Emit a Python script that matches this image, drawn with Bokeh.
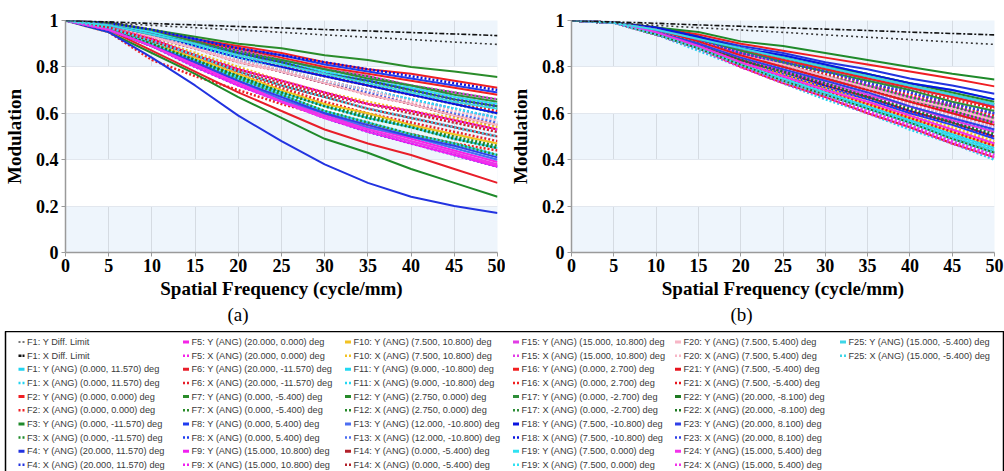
from bokeh.plotting import figure
from bokeh.models import Range1d, FixedTicker, Title, ColumnDataSource
from bokeh.layouts import column, row
from bokeh.embed import file_html
from bokeh.resources import INLINE
from bokeh.core.properties import value

# ---------------- data ----------------
freq = [0, 5, 10, 15, 20, 25, 30, 35, 40, 45, 50]
x_ticks = [0, 5, 10, 15, 20, 25, 30, 35, 40, 45, 50]
y_ticks = [0, 0.2, 0.4, 0.6, 0.8, 1]
y_tick_labels = ["0", "0.2", "0.4", "0.6", "0.8", "1"]

field_names = ["F1", "F2", "F3", "F4", "F5", "F6", "F7", "F8", "F9", "F10", "F11", "F12", "F13",
               "F14", "F15", "F16", "F17", "F18", "F19", "F20", "F21", "F22", "F23", "F24", "F25"]
field_angles = ["(0.000, 11.570)", "(0.000, 0.000)", "(0.000, -11.570)", "(20.000, 11.570)",
                "(20.000, 0.000)", "(20.000, -11.570)", "(0.000, -5.400)", "(0.000, 5.400)",
                "(15.000, 10.800)", "(7.500, 10.800)", "(9.000, -10.800)", "(2.750, 0.000)",
                "(12.000, -10.800)", "(0.000, -5.400)", "(15.000, 10.800)", "(0.000, 2.700)",
                "(0.000, -2.700)", "(7.500, -10.800)", "(7.500, 0.000)", "(7.500, 5.400)",
                "(7.500, -5.400)", "(20.000, -8.100)", "(20.000, 8.100)", "(15.000, 5.400)",
                "(15.000, -5.400)"]
field_colors = ["#22D3F0", "#F01E23", "#1F8A2A", "#2233E0", "#F524E8", "#E81E2A", "#2A8C2A",
                "#1F3CF0", "#F020F0", "#F2C222", "#22D8F2", "#268A2A", "#4C6EF2", "#B2202A",
                "#E23CE6", "#F22020", "#2E8E38", "#0A14E0", "#30E2F2", "#F7B6C6", "#E8141E",
                "#1E7A22", "#3040E8", "#F232EA", "#3ED6E8"]

# panel (a) diffraction limits
a_diff_Y = [1.0, 0.990, 0.979, 0.969, 0.959, 0.949, 0.938, 0.928, 0.918, 0.907, 0.897]
a_diff_X = [1.0, 0.994, 0.987, 0.981, 0.974, 0.968, 0.961, 0.955, 0.948, 0.942, 0.935]
# panel (a) fields
a_F1_Y = [1.00, 0.97, 0.90, 0.83, 0.76, 0.69, 0.63, 0.58, 0.54, 0.49, 0.45]
a_F1_X = [1.00, 0.96, 0.89, 0.81, 0.74, 0.66, 0.60, 0.54, 0.50, 0.45, 0.40]
a_F2_Y = [1.00, 0.99, 0.96, 0.92, 0.89, 0.86, 0.82, 0.79, 0.77, 0.74, 0.71]
a_F2_X = [1.00, 0.95, 0.83, 0.76, 0.70, 0.64, 0.59, 0.55, 0.51, 0.47, 0.44]
a_F3_Y = [1.00, 0.95, 0.86, 0.77, 0.67, 0.58, 0.49, 0.43, 0.36, 0.30, 0.24]
a_F3_X = [1.00, 0.97, 0.90, 0.83, 0.76, 0.70, 0.64, 0.59, 0.55, 0.50, 0.46]
a_F4_Y = [1.00, 0.95, 0.84, 0.72, 0.59, 0.48, 0.38, 0.30, 0.24, 0.20, 0.17]
a_F4_X = [1.00, 0.96, 0.89, 0.80, 0.72, 0.65, 0.58, 0.52, 0.47, 0.42, 0.37]
a_F5_Y = [1.00, 0.96, 0.89, 0.81, 0.73, 0.66, 0.59, 0.54, 0.49, 0.44, 0.39]
a_F5_X = [1.00, 0.97, 0.91, 0.85, 0.78, 0.72, 0.67, 0.62, 0.58, 0.54, 0.50]
a_F6_Y = [1.00, 0.96, 0.87, 0.78, 0.69, 0.61, 0.53, 0.47, 0.42, 0.36, 0.30]
a_F6_X = [1.00, 0.97, 0.91, 0.84, 0.77, 0.71, 0.65, 0.60, 0.56, 0.52, 0.48]
a_F7_Y = [1.00, 0.99, 0.96, 0.93, 0.90, 0.88, 0.85, 0.83, 0.80, 0.78, 0.756]
a_F7_X = [1.00, 0.98, 0.94, 0.90, 0.85, 0.81, 0.77, 0.73, 0.69, 0.65, 0.62]
a_F8_Y = [1.00, 0.98, 0.95, 0.92, 0.88, 0.85, 0.81, 0.78, 0.75, 0.72, 0.69]
a_F8_X = [1.00, 0.98, 0.94, 0.89, 0.84, 0.79, 0.74, 0.70, 0.66, 0.62, 0.58]
a_F9_Y = [1.00, 0.96, 0.89, 0.80, 0.72, 0.65, 0.58, 0.52, 0.47, 0.42, 0.37]
a_F9_X = [1.00, 0.98, 0.95, 0.90, 0.86, 0.82, 0.78, 0.74, 0.71, 0.67, 0.64]
a_F10_Y = [1.00, 0.97, 0.90, 0.84, 0.77, 0.70, 0.64, 0.60, 0.55, 0.51, 0.47]
a_F10_X = [1.00, 0.97, 0.92, 0.86, 0.80, 0.74, 0.69, 0.65, 0.61, 0.58, 0.54]
a_F11_Y = [1.00, 0.97, 0.90, 0.82, 0.75, 0.68, 0.61, 0.56, 0.51, 0.47, 0.42]
a_F11_X = [1.00, 0.97, 0.91, 0.85, 0.79, 0.73, 0.68, 0.64, 0.60, 0.56, 0.52]
a_F12_Y = [1.00, 0.98, 0.95, 0.91, 0.87, 0.83, 0.79, 0.76, 0.72, 0.69, 0.66]
a_F12_X = [1.00, 0.98, 0.94, 0.89, 0.84, 0.80, 0.76, 0.72, 0.68, 0.64, 0.60]
a_F13_Y = [1.00, 0.96, 0.89, 0.81, 0.74, 0.66, 0.60, 0.54, 0.50, 0.45, 0.40]
a_F13_X = [1.00, 0.98, 0.93, 0.88, 0.83, 0.78, 0.73, 0.69, 0.64, 0.60, 0.56]
a_F14_Y = [1.00, 0.97, 0.91, 0.85, 0.78, 0.72, 0.67, 0.62, 0.58, 0.54, 0.50]
a_F14_X = [1.00, 0.98, 0.93, 0.88, 0.82, 0.78, 0.73, 0.68, 0.64, 0.59, 0.55]
a_F15_Y = [1.00, 0.96, 0.89, 0.81, 0.73, 0.65, 0.59, 0.53, 0.48, 0.43, 0.38]
a_F15_X = [1.00, 0.98, 0.95, 0.91, 0.87, 0.83, 0.79, 0.76, 0.72, 0.69, 0.66]
a_F16_Y = [1.00, 0.98, 0.95, 0.91, 0.88, 0.84, 0.80, 0.77, 0.74, 0.71, 0.68]
a_F16_X = [1.00, 0.98, 0.94, 0.89, 0.85, 0.81, 0.76, 0.72, 0.68, 0.65, 0.61]
a_F17_Y = [1.00, 0.98, 0.95, 0.91, 0.86, 0.83, 0.79, 0.75, 0.72, 0.68, 0.65]
a_F17_X = [1.00, 0.97, 0.90, 0.82, 0.75, 0.68, 0.61, 0.56, 0.51, 0.47, 0.42]
a_F18_Y = [1.00, 0.98, 0.94, 0.89, 0.84, 0.80, 0.76, 0.72, 0.68, 0.64, 0.60]
a_F18_X = [1.00, 0.99, 0.96, 0.92, 0.88, 0.85, 0.82, 0.79, 0.76, 0.73, 0.70]
a_F19_Y = [1.00, 0.98, 0.95, 0.90, 0.86, 0.82, 0.78, 0.74, 0.71, 0.67, 0.64]
a_F19_X = [1.00, 0.98, 0.94, 0.89, 0.84, 0.79, 0.74, 0.70, 0.66, 0.62, 0.58]
a_F20_Y = [1.00, 0.98, 0.93, 0.88, 0.82, 0.78, 0.73, 0.68, 0.64, 0.59, 0.55]
a_F20_X = [1.00, 0.98, 0.94, 0.88, 0.83, 0.79, 0.74, 0.70, 0.65, 0.61, 0.57]
a_F21_Y = [1.00, 0.97, 0.92, 0.85, 0.79, 0.74, 0.69, 0.64, 0.61, 0.57, 0.53]
a_F21_X = [1.00, 0.97, 0.91, 0.85, 0.79, 0.73, 0.68, 0.64, 0.60, 0.56, 0.52]
a_F22_Y = [1.00, 0.98, 0.94, 0.90, 0.86, 0.82, 0.77, 0.74, 0.70, 0.66, 0.63]
a_F22_X = [1.00, 0.97, 0.90, 0.83, 0.76, 0.69, 0.63, 0.58, 0.54, 0.49, 0.45]
a_F23_Y = [1.00, 0.96, 0.89, 0.82, 0.74, 0.67, 0.60, 0.55, 0.50, 0.46, 0.41]
a_F23_X = [1.00, 0.98, 0.94, 0.90, 0.86, 0.82, 0.77, 0.74, 0.70, 0.66, 0.63]
a_F24_Y = [1.00, 0.96, 0.89, 0.81, 0.73, 0.65, 0.58, 0.53, 0.48, 0.43, 0.375]
a_F24_X = [1.00, 0.97, 0.92, 0.85, 0.79, 0.74, 0.69, 0.64, 0.61, 0.57, 0.53]
a_F25_Y = [1.00, 0.98, 0.94, 0.90, 0.85, 0.81, 0.77, 0.73, 0.69, 0.65, 0.62]
a_F25_X = [1.00, 0.97, 0.91, 0.85, 0.78, 0.72, 0.67, 0.62, 0.58, 0.54, 0.50]

# panel (b) diffraction limits
b_diff_Y = [1.0, 0.990, 0.979, 0.969, 0.959, 0.949, 0.938, 0.928, 0.918, 0.907, 0.897]
b_diff_X = [1.0, 0.994, 0.988, 0.981, 0.975, 0.969, 0.963, 0.957, 0.950, 0.944, 0.938]
# panel (b) fields
b_F1_Y = [1.00, 0.99, 0.97, 0.93, 0.88, 0.85, 0.81, 0.77, 0.73, 0.70, 0.66]
b_F1_X = [1.00, 0.99, 0.94, 0.87, 0.80, 0.73, 0.66, 0.60, 0.53, 0.47, 0.40]
b_F2_Y = [1.00, 0.99, 0.97, 0.94, 0.90, 0.87, 0.84, 0.81, 0.78, 0.75, 0.716]
b_F2_X = [1.00, 0.99, 0.96, 0.92, 0.87, 0.83, 0.79, 0.75, 0.70, 0.66, 0.62]
b_F3_Y = [1.00, 0.99, 0.97, 0.95, 0.91, 0.89, 0.86, 0.83, 0.80, 0.77, 0.746]
b_F3_X = [1.00, 0.99, 0.96, 0.91, 0.85, 0.80, 0.75, 0.70, 0.65, 0.60, 0.55]
b_F4_Y = [1.00, 0.99, 0.97, 0.93, 0.89, 0.86, 0.82, 0.79, 0.75, 0.72, 0.684]
b_F4_X = [1.00, 0.99, 0.96, 0.92, 0.86, 0.82, 0.78, 0.73, 0.69, 0.64, 0.60]
b_F5_Y = [1.00, 0.99, 0.96, 0.91, 0.86, 0.81, 0.76, 0.72, 0.67, 0.63, 0.58]
b_F5_X = [1.00, 0.99, 0.94, 0.88, 0.80, 0.74, 0.68, 0.61, 0.55, 0.48, 0.42]
b_F6_Y = [1.00, 0.99, 0.94, 0.88, 0.80, 0.73, 0.67, 0.60, 0.54, 0.47, 0.41]
b_F6_X = [1.00, 0.99, 0.95, 0.89, 0.82, 0.76, 0.70, 0.65, 0.59, 0.53, 0.47]
b_F7_Y = [1.00, 0.99, 0.96, 0.92, 0.88, 0.84, 0.80, 0.76, 0.72, 0.68, 0.64]
b_F7_X = [1.00, 0.99, 0.96, 0.91, 0.85, 0.81, 0.76, 0.71, 0.66, 0.62, 0.57]
b_F8_Y = [1.00, 0.99, 0.95, 0.89, 0.83, 0.77, 0.71, 0.66, 0.60, 0.55, 0.49]
b_F8_X = [1.00, 0.99, 0.95, 0.90, 0.84, 0.78, 0.73, 0.68, 0.63, 0.57, 0.52]
b_F9_Y = [1.00, 0.99, 0.96, 0.91, 0.85, 0.80, 0.75, 0.71, 0.66, 0.61, 0.56]
b_F9_X = [1.00, 0.99, 0.94, 0.88, 0.81, 0.74, 0.68, 0.62, 0.56, 0.49, 0.43]
b_F10_Y = [1.00, 0.99, 0.95, 0.89, 0.82, 0.76, 0.70, 0.64, 0.58, 0.52, 0.46]
b_F10_X = [1.00, 0.99, 0.95, 0.89, 0.82, 0.77, 0.71, 0.65, 0.59, 0.54, 0.48]
b_F11_Y = [1.00, 0.99, 0.95, 0.88, 0.81, 0.75, 0.69, 0.63, 0.57, 0.51, 0.45]
b_F11_X = [1.00, 0.99, 0.95, 0.90, 0.84, 0.79, 0.74, 0.69, 0.63, 0.58, 0.53]
b_F12_Y = [1.00, 0.99, 0.97, 0.93, 0.88, 0.84, 0.80, 0.77, 0.73, 0.69, 0.65]
b_F12_X = [1.00, 0.99, 0.96, 0.91, 0.85, 0.80, 0.75, 0.71, 0.66, 0.61, 0.56]
b_F13_Y = [1.00, 0.99, 0.96, 0.92, 0.87, 0.83, 0.79, 0.75, 0.71, 0.67, 0.63]
b_F13_X = [1.00, 0.99, 0.95, 0.90, 0.84, 0.79, 0.74, 0.69, 0.64, 0.59, 0.54]
b_F14_Y = [1.00, 0.99, 0.95, 0.90, 0.83, 0.78, 0.72, 0.67, 0.61, 0.56, 0.50]
b_F14_X = [1.00, 0.99, 0.94, 0.88, 0.81, 0.75, 0.69, 0.62, 0.56, 0.50, 0.44]
b_F15_Y = [1.00, 0.99, 0.95, 0.90, 0.84, 0.78, 0.73, 0.68, 0.63, 0.57, 0.52]
b_F15_X = [1.00, 0.99, 0.94, 0.88, 0.80, 0.73, 0.67, 0.60, 0.54, 0.47, 0.41]
b_F16_Y = [1.00, 0.99, 0.96, 0.92, 0.87, 0.83, 0.79, 0.75, 0.71, 0.67, 0.626]
b_F16_X = [1.00, 0.99, 0.96, 0.91, 0.86, 0.82, 0.77, 0.73, 0.68, 0.64, 0.59]
b_F17_Y = [1.00, 0.99, 0.96, 0.92, 0.87, 0.82, 0.78, 0.74, 0.70, 0.65, 0.61]
b_F17_X = [1.00, 0.99, 0.96, 0.91, 0.86, 0.81, 0.76, 0.72, 0.67, 0.63, 0.58]
b_F18_Y = [1.00, 0.99, 0.97, 0.93, 0.88, 0.85, 0.81, 0.77, 0.73, 0.70, 0.66]
b_F18_X = [1.00, 0.99, 0.95, 0.90, 0.83, 0.78, 0.72, 0.67, 0.61, 0.56, 0.50]
b_F19_Y = [1.00, 0.99, 0.94, 0.88, 0.81, 0.75, 0.69, 0.62, 0.56, 0.50, 0.44]
b_F19_X = [1.00, 0.99, 0.95, 0.88, 0.81, 0.75, 0.69, 0.63, 0.57, 0.51, 0.45]
b_F20_Y = [1.00, 0.99, 0.96, 0.91, 0.85, 0.81, 0.76, 0.71, 0.66, 0.62, 0.57]
b_F20_X = [1.00, 0.99, 0.95, 0.90, 0.84, 0.79, 0.74, 0.69, 0.64, 0.59, 0.54]
b_F21_Y = [1.00, 0.99, 0.96, 0.91, 0.85, 0.80, 0.75, 0.70, 0.65, 0.60, 0.55]
b_F21_X = [1.00, 0.99, 0.95, 0.89, 0.82, 0.76, 0.70, 0.64, 0.58, 0.52, 0.46]
b_F22_Y = [1.00, 0.99, 0.94, 0.88, 0.81, 0.74, 0.68, 0.62, 0.56, 0.49, 0.43]
b_F22_X = [1.00, 0.99, 0.95, 0.90, 0.83, 0.78, 0.73, 0.67, 0.62, 0.56, 0.51]
b_F23_Y = [1.00, 0.99, 0.95, 0.90, 0.84, 0.79, 0.74, 0.69, 0.63, 0.58, 0.53]
b_F23_X = [1.00, 0.99, 0.96, 0.92, 0.86, 0.82, 0.78, 0.73, 0.69, 0.64, 0.60]
b_F24_Y = [1.00, 0.99, 0.95, 0.89, 0.82, 0.76, 0.70, 0.65, 0.59, 0.53, 0.47]
b_F24_X = [1.00, 0.99, 0.94, 0.88, 0.80, 0.74, 0.68, 0.61, 0.55, 0.48, 0.42]
b_F25_Y = [1.00, 0.99, 0.96, 0.92, 0.88, 0.84, 0.80, 0.76, 0.72, 0.68, 0.64]
b_F25_X = [1.00, 0.99, 0.94, 0.88, 0.81, 0.74, 0.68, 0.62, 0.56, 0.49, 0.43]

a_Y = [a_F1_Y, a_F2_Y, a_F3_Y, a_F4_Y, a_F5_Y, a_F6_Y, a_F7_Y, a_F8_Y, a_F9_Y, a_F10_Y, a_F11_Y,
       a_F12_Y, a_F13_Y, a_F14_Y, a_F15_Y, a_F16_Y, a_F17_Y, a_F18_Y, a_F19_Y, a_F20_Y, a_F21_Y,
       a_F22_Y, a_F23_Y, a_F24_Y, a_F25_Y]
a_X = [a_F1_X, a_F2_X, a_F3_X, a_F4_X, a_F5_X, a_F6_X, a_F7_X, a_F8_X, a_F9_X, a_F10_X, a_F11_X,
       a_F12_X, a_F13_X, a_F14_X, a_F15_X, a_F16_X, a_F17_X, a_F18_X, a_F19_X, a_F20_X, a_F21_X,
       a_F22_X, a_F23_X, a_F24_X, a_F25_X]
b_Y = [b_F1_Y, b_F2_Y, b_F3_Y, b_F4_Y, b_F5_Y, b_F6_Y, b_F7_Y, b_F8_Y, b_F9_Y, b_F10_Y, b_F11_Y,
       b_F12_Y, b_F13_Y, b_F14_Y, b_F15_Y, b_F16_Y, b_F17_Y, b_F18_Y, b_F19_Y, b_F20_Y, b_F21_Y,
       b_F22_Y, b_F23_Y, b_F24_Y, b_F25_Y]
b_X = [b_F1_X, b_F2_X, b_F3_X, b_F4_X, b_F5_X, b_F6_X, b_F7_X, b_F8_X, b_F9_X, b_F10_X, b_F11_X,
       b_F12_X, b_F13_X, b_F14_X, b_F15_X, b_F16_X, b_F17_X, b_F18_X, b_F19_X, b_F20_X, b_F21_X,
       b_F22_X, b_F23_X, b_F24_X, b_F25_X]

SERIF = "Liberation Serif"
SANS = "Liberation Sans"
BAND = "#eef5fc"


def make_panel(ys, xs, diff_y, diff_x, tag, width, left, right, tag_offset):
    p = figure(width=width, height=331, x_range=Range1d(0, 50), y_range=Range1d(0, 1),
               output_backend="svg", toolbar_location=None,
               min_border_left=left, min_border_right=right, min_border_top=20,
               min_border_bottom=79)
    p.background_fill_color = BAND
    p.border_fill_color = "white"
    p.outline_line_color = None

    p.xaxis.ticker = FixedTicker(ticks=x_ticks)
    p.yaxis.ticker = FixedTicker(ticks=y_ticks)
    p.yaxis.major_label_overrides = {t: l for t, l in zip(y_ticks, y_tick_labels)}
    p.xaxis.axis_label = "Spatial Frequency (cycle/mm)"
    p.yaxis.axis_label = "Modulation"
    for ax in (p.xaxis[0], p.yaxis[0]):
        ax.axis_line_color = "#9a9a9a"
        ax.axis_line_width = 1.5
        ax.major_tick_line_color = "#9a9a9a"
        ax.major_tick_out = 4
        ax.major_tick_in = 0
        ax.minor_tick_line_color = None
        ax.major_label_text_font = SERIF
        ax.major_label_text_font_style = "bold"
        ax.major_label_text_font_size = "18px"
        ax.major_label_text_color = "black"
        ax.axis_label_text_font = SERIF
        ax.axis_label_text_font_style = "bold"
        ax.axis_label_text_font_size = "19px"
        ax.axis_label_text_color = "black"
    p.xaxis.major_label_standoff = 2
    p.xaxis.axis_label_standoff = 3
    p.yaxis.major_label_standoff = 3
    p.yaxis.axis_label_standoff = 8

    p.xgrid.grid_line_color = "#d5dbe2"
    p.ygrid.grid_line_color = "#e2e7ee"
    p.ygrid.band_fill_color = "white"
    p.ygrid.band_fill_alpha = 1.0

    for i in range(len(ys)):
        p.line(freq, ys[i], line_color=field_colors[i], line_width=2)
        p.line(freq, xs[i], line_color=field_colors[i], line_width=2.5, line_dash="2 2")
    p.line(freq, diff_y, line_color="#3a3a3a", line_width=1.6, line_dash="2 3")
    p.line(freq, diff_x, line_color="#111111", line_width=1.6, line_dash="5 2 2 2")

    p.add_layout(Title(text=tag, align="left", offset=tag_offset, text_font=SERIF,
                       text_font_size="19px", text_font_style="normal", text_color="black",
                       standoff=0), "below")
    return p


pa = make_panel(a_Y, a_X, a_diff_Y, a_diff_X, "(a)", 505, 65, 8, 162)
pb = make_panel(b_Y, b_X, b_diff_Y, b_diff_X, "(b)", 499, 66, 10, 159)

# ---------------- legend ----------------
leg_h = 150
leg = figure(width=1004, height=leg_h, x_range=Range1d(5, 1003), y_range=Range1d(leg_h, 0),
             output_backend="svg", toolbar_location=None, min_border=0,
             min_border_left=5, min_border_right=1)
leg.xaxis.visible = False
leg.yaxis.visible = False
leg.xgrid.visible = False
leg.ygrid.visible = False
leg.outline_line_color = "black"
leg.outline_line_width = 1.5
leg.background_fill_color = "white"
leg.border_fill_color = "white"

labels, colors, styles = [], [], []
labels += ["F1: Y Diff. Limit", "F1: X Diff. Limit"]
colors += ["#777777", "#111111"]
styles += ["diffy", "diffx"]
for i, name in enumerate(field_names):
    labels.append(f"{name}: Y (ANG) {field_angles[i]} deg")
    colors.append(field_colors[i])
    styles.append("solid")
    labels.append(f"{name}: X (ANG) {field_angles[i]} deg")
    colors.append(field_colors[i])
    styles.append("dot")

col_text_x = [26.5, 191, 353, 521, 683, 848]
row_y0, row_dy, n_rows = 10.5, 13.65, 10
tx, ty = [], []
for k in range(len(labels)):
    tx.append(col_text_x[k // n_rows])
    ty.append(row_y0 + row_dy * (k % n_rows))

leg.text(x=tx, y=ty, text=labels, text_baseline="middle", text_align="left",
         text_font=value(SANS), text_font_size="9.2px", text_color="#3a3a3a")

dash_for = {"solid": "solid", "dot": "2 2", "diffy": "2 2", "diffx": "3 1"}
width_for = {"solid": 3, "dot": 2.5, "diffy": 2, "diffx": 2.5}
for st in ["solid", "dot", "diffy", "diffx"]:
    idx = [k for k in range(len(labels)) if styles[k] == st]
    src = ColumnDataSource(dict(
        x0=[tx[k] - 8.5 for k in idx], x1=[tx[k] - 2.5 for k in idx],
        y=[ty[k] for k in idx], c=[colors[k] for k in idx]))
    leg.segment(x0="x0", y0="y", x1="x1", y1="y", source=src, line_color="c",
                line_width=width_for[st], line_dash=dash_for[st])

layout = column(row(pa, pb), leg, margin=(0, 0, -20, 0))
open("out.html", "w").write(file_html(layout, INLINE))
